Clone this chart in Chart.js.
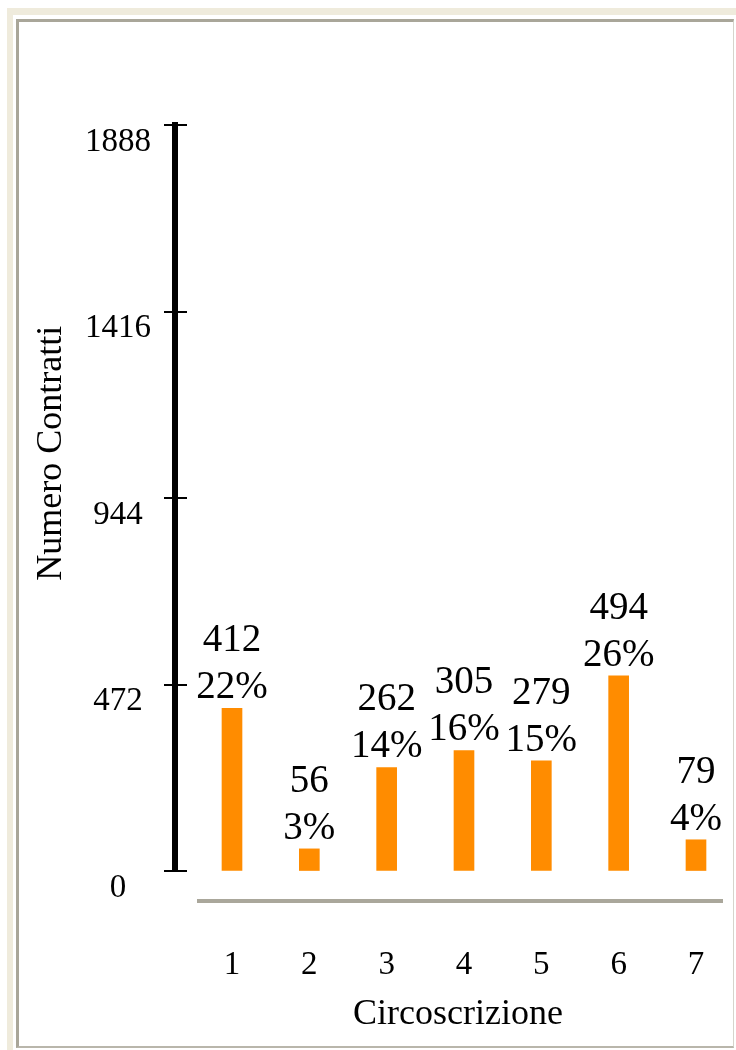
<!DOCTYPE html>
<html lang="it">
<head>
<meta charset="utf-8">
<title>Numero Contratti per Circoscrizione</title>
<script src="https://cdn.jsdelivr.net/npm/chart.js@4.4.0/dist/chart.umd.min.js"></script>
<style>
    html, body { margin: 0; padding: 0; background: #fff; overflow: hidden; }
    body { position: relative; width: 736px; height: 1050px; }
    #cornice {
        position: absolute; left: 7px; top: 8px; width: 760px; height: 1100px;
        border-left: 6px solid #efebdc; border-top: 7px solid #efebdc; box-sizing: border-box;
    }
    #pannello {
        position: absolute; left: 16px; top: 19px; width: 714px; height: 1024px; background: #fff;
        border-left: 3px solid #a9a699; border-top: 3px solid #a9a699;
        border-right: 1px solid #d6d4cc; border-bottom: 2px solid #b9b6ab;
    }
    #grafico { position: absolute; left: 0; top: 0; }
</style>
</head>
<body>
<div id="cornice"></div>
<div id="pannello"></div>
<canvas id="grafico" width="760" height="1050"></canvas>
<script>
const categorie = ['1', '2', '3', '4', '5', '6', '7'];
const contratti = [412, 56, 262, 305, 279, 494, 79];
const percentuali = [22, 3, 14, 16, 15, 26, 4];
const tickAsseY = [0, 472, 944, 1416, 1888];

const FONT = "'Liberation Serif', 'Times New Roman', serif";

// valore e percentuale sopra ogni barra
const etichetteBarre = {
    id: 'etichetteBarre',
    afterDatasetsDraw(chart) {
        const ctx = chart.ctx;
        const meta = chart.getDatasetMeta(0);
        ctx.save();
        ctx.font = '39px ' + FONT;
        ctx.fillStyle = '#000';
        ctx.textAlign = 'center';
        ctx.textBaseline = 'alphabetic';
        meta.data.forEach(function (barra, i) {
            ctx.fillText(String(contratti[i]), barra.x, barra.y - 57);
            ctx.fillText(percentuali[i] + '%', barra.x, barra.y - 10);
        });
        ctx.restore();
    }
};

// tacche sull'asse Y, linea grigia di base e titolo verticale
const assi = {
    id: 'assi',
    afterDraw(chart) {
        const ctx = chart.ctx;
        const area = chart.chartArea;
        const scalaY = chart.scales.y;
        ctx.save();

        ctx.strokeStyle = '#000';
        ctx.lineWidth = 2;
        scalaY.ticks.forEach(function (t) {
            const py = Math.round(scalaY.getPixelForValue(t.value));
            ctx.beginPath();
            ctx.moveTo(area.left - 11, py);
            ctx.lineTo(area.left + 12, py);
            ctx.stroke();
        });

        ctx.strokeStyle = '#aaa79b';
        ctx.lineWidth = 4;
        ctx.beginPath();
        ctx.moveTo(area.left + 22, area.bottom + 30);
        ctx.lineTo(area.right - 18, area.bottom + 30);
        ctx.stroke();

        ctx.translate(scalaY.left + 32, area.top + (area.bottom - area.top) * 0.44);
        ctx.rotate(-Math.PI / 2);
        ctx.font = '36px ' + FONT;
        ctx.fillStyle = '#000';
        ctx.textAlign = 'center';
        ctx.textBaseline = 'middle';
        ctx.fillText('Numero Contratti', 0, 0);
        ctx.restore();
    }
};

new Chart(document.getElementById('grafico'), {
    type: 'bar',
    data: {
        datasets: [{
            label: 'Numero Contratti',
            data: contratti.map(function (v, i) { return { x: i + 1, y: v }; }),
            backgroundColor: '#ff8c00',
            barThickness: 20
        }]
    },
    options: {
        responsive: false,
        animation: false,
        layout: { padding: { left: 20, top: 125, right: 19, bottom: 0 } },
        plugins: {
            legend: { display: false },
            tooltip: { enabled: false }
        },
        scales: {
            x: {
                type: 'linear',
                offset: false,
                min: 0.263,
                max: 7.582,
                grid: { display: false },
                border: { display: false },
                afterBuildTicks: function (s) {
                    s.ticks = categorie.map(function (c, i) { return { value: i + 1 }; });
                },
                afterFit: function (s) {
                    s.height = 179;
                    s.paddingLeft = 0;
                    s.paddingRight = 0;
                },
                ticks: {
                    padding: 67,
                    color: '#000',
                    font: { family: FONT, size: 33 },
                    callback: function (v) { return categorie[v - 1]; }
                },
                title: {
                    display: true,
                    text: 'Circoscrizione',
                    color: '#000',
                    font: { family: FONT, size: 36 },
                    padding: { top: 0, bottom: 14 }
                }
            },
            y: {
                min: 0,
                max: 1888,
                afterBuildTicks: function (s) {
                    s.ticks = tickAsseY.map(function (v) { return { value: v }; });
                },
                afterFit: function (s) { s.width = 155; },
                grid: { display: true, drawOnChartArea: false, drawTicks: false },
                border: { display: true, color: '#000', width: 6 },
                ticks: {
                    padding: 24,
                    crossAlign: 'center',
                    labelOffset: 17,
                    color: '#000',
                    font: { family: FONT, size: 33 },
                    callback: function (v) { return String(v); }
                },
                title: { display: false }
            }
        }
    },
    plugins: [assi, etichetteBarre]
});
</script>
</body>
</html>
